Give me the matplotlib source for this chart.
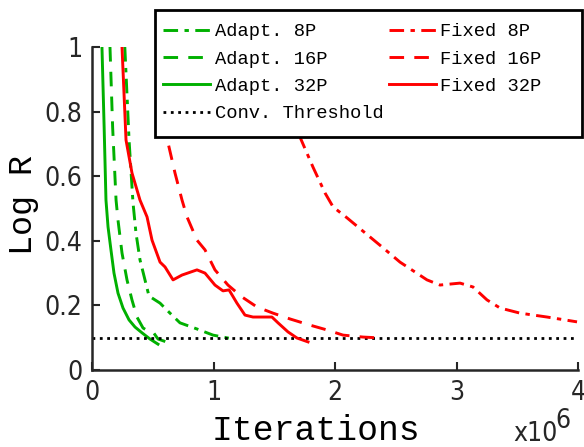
import matplotlib
matplotlib.use("Agg")
import matplotlib.pyplot as plt
from matplotlib.patches import Rectangle

# residual curves, iterations in units of 1e6
adapt8_x = [0.27, 0.305, 0.337, 0.362, 0.395, 0.436, 0.469, 0.560, 0.642, 0.724, 0.864, 0.996, 1.16]
adapt8_y = [1.0, 0.712, 0.52, 0.424, 0.341, 0.279, 0.229, 0.207, 0.176, 0.146, 0.127, 0.108, 0.096]

adapt16_x = [0.148, 0.17, 0.198, 0.214, 0.247, 0.288, 0.329, 0.370, 0.420, 0.461, 0.502, 0.543, 0.634]
adapt16_y = [1.0, 0.75, 0.526, 0.464, 0.362, 0.279, 0.217, 0.164, 0.130, 0.121, 0.118, 0.096, 0.084]

adapt32_x = [0.082, 0.10, 0.115, 0.132, 0.156, 0.181, 0.214, 0.255, 0.305, 0.354, 0.412, 0.477, 0.543]
adapt32_y = [1.0, 0.75, 0.526, 0.443, 0.372, 0.30, 0.238, 0.192, 0.155, 0.133, 0.115, 0.096, 0.080]

fixed8_x = [1.40, 1.60, 1.712, 1.819, 1.918, 1.984, 2.099, 2.230, 2.387, 2.535, 2.757, 2.864,
            3.029, 3.136, 3.251, 3.358, 3.523, 3.745, 3.992]
fixed8_y = [1.0, 0.80, 0.721, 0.628, 0.548, 0.505, 0.471, 0.430, 0.381, 0.334, 0.279, 0.263,
            0.269, 0.257, 0.217, 0.192, 0.176, 0.164, 0.149]

fixed16_x = [0.55, 0.60, 0.626, 0.683, 0.741, 0.782, 0.864, 0.930, 1.012, 1.119, 1.235, 1.358,
             1.490, 1.630, 1.794, 1.934, 2.066, 2.230, 2.387]
fixed16_y = [1.0, 0.78, 0.703, 0.610, 0.526, 0.474, 0.402, 0.372, 0.310, 0.263, 0.226, 0.195,
             0.176, 0.158, 0.139, 0.124, 0.108, 0.102, 0.099]

fixed32_x = [0.247, 0.280, 0.329, 0.395, 0.453, 0.494, 0.560, 0.601, 0.667, 0.741, 0.864, 0.930,
             1.012, 1.078, 1.128, 1.193, 1.259, 1.325, 1.481, 1.531, 1.613, 1.687, 1.778]
fixed32_y = [1.0, 0.712, 0.610, 0.526, 0.474, 0.402, 0.334, 0.319, 0.279, 0.294, 0.310, 0.300,
             0.263, 0.245, 0.248, 0.207, 0.170, 0.164, 0.164, 0.146, 0.118, 0.099, 0.087]

threshold = 0.098

xticks = [0, 1, 2, 3, 4]
xtick_labels = ["0", "1", "2", "3", "4"]
yticks = [0, 0.2, 0.4, 0.6, 0.8, 1]
ytick_labels = ["0", "0.2", "0.4", "0.6", "0.8", "1"]

green = "#00b000"
red = "#ff0000"
axcol = "#262626"
mono = "Liberation Mono"
tickfont = dict(family="DejaVu Sans", stretch="condensed", size=19)

fig = plt.figure(figsize=(5.84, 4.47), dpi=100)
ax = fig.add_axes([92/584, 77/447, 486/584, 323/447])

lw = 2.1
ax.plot(adapt8_x, adapt8_y, color=green, lw=lw, dashes=(5, 2.2, 1.5, 2.2), label="Adapt. 8P")
ax.plot(adapt16_x, adapt16_y, color=green, lw=lw, dashes=(5, 3.5), label="Adapt. 16P")
ax.plot(adapt32_x, adapt32_y, color=green, lw=lw, label="Adapt. 32P")
ax.plot([0, 4], [threshold, threshold], color="black", lw=2, ls=":", label="Conv. Threshold")
ax.plot(fixed8_x, fixed8_y, color=red, lw=lw, dashes=(5, 2.2, 1.5, 2.2), label="Fixed 8P")
ax.plot(fixed16_x, fixed16_y, color=red, lw=lw, dashes=(5, 3.5), label="Fixed 16P")
ax.plot(fixed32_x, fixed32_y, color=red, lw=lw, label="Fixed 32P")

ax.set_xlim(0, 4)
ax.set_ylim(0, 1)
ax.set_xticks(xticks)
ax.set_xticklabels(xtick_labels, **tickfont)
ax.set_yticks(yticks)
ax.set_yticklabels(ytick_labels, **tickfont)
ax.tick_params(direction="in", length=6, width=1.5, colors=axcol)
ax.tick_params(axis="x", pad=7)
ax.tick_params(axis="y", pad=7)
for s in ["top", "right"]:
    ax.spines[s].set_visible(False)
for s in ["left", "bottom"]:
    ax.spines[s].set_linewidth(1.8)
    ax.spines[s].set_color(axcol)

ax.set_xlabel("Iterations", family=mono, size=25, color="black")
ax.xaxis.set_label_coords(0.461, -0.135)
ax.set_ylabel("Log R", family=mono, size=24, color="black")
ax.yaxis.set_label_coords(-0.11, 0.51)

# exponent marker under the x axis
fig.text(513/584, 1 - 441/447, "x10", va="baseline", color=axcol, **tickfont)
fig.text(555/584, 1 - 428/447, "6", va="baseline", color=axcol, **tickfont)

# legend box with frame drawn separately
fig.patches.append(Rectangle((155/584, 1 - 137/447), 427/584, 127/447,
                             transform=fig.transFigure, facecolor="white",
                             edgecolor="black", lw=2, zorder=2))
handles, labels = ax.get_legend_handles_labels()
fig.legend(handles, labels, loc="upper left", bbox_to_anchor=(163/584, 1 - 23/447),
           ncol=2, frameon=False, prop=dict(family=mono, size=13.5),
           handlelength=2.5, handletextpad=0.25, columnspacing=0.3,
           labelspacing=0.55, borderpad=0, borderaxespad=0).set_zorder(3)

fig.savefig("out.png", dpi=100)
